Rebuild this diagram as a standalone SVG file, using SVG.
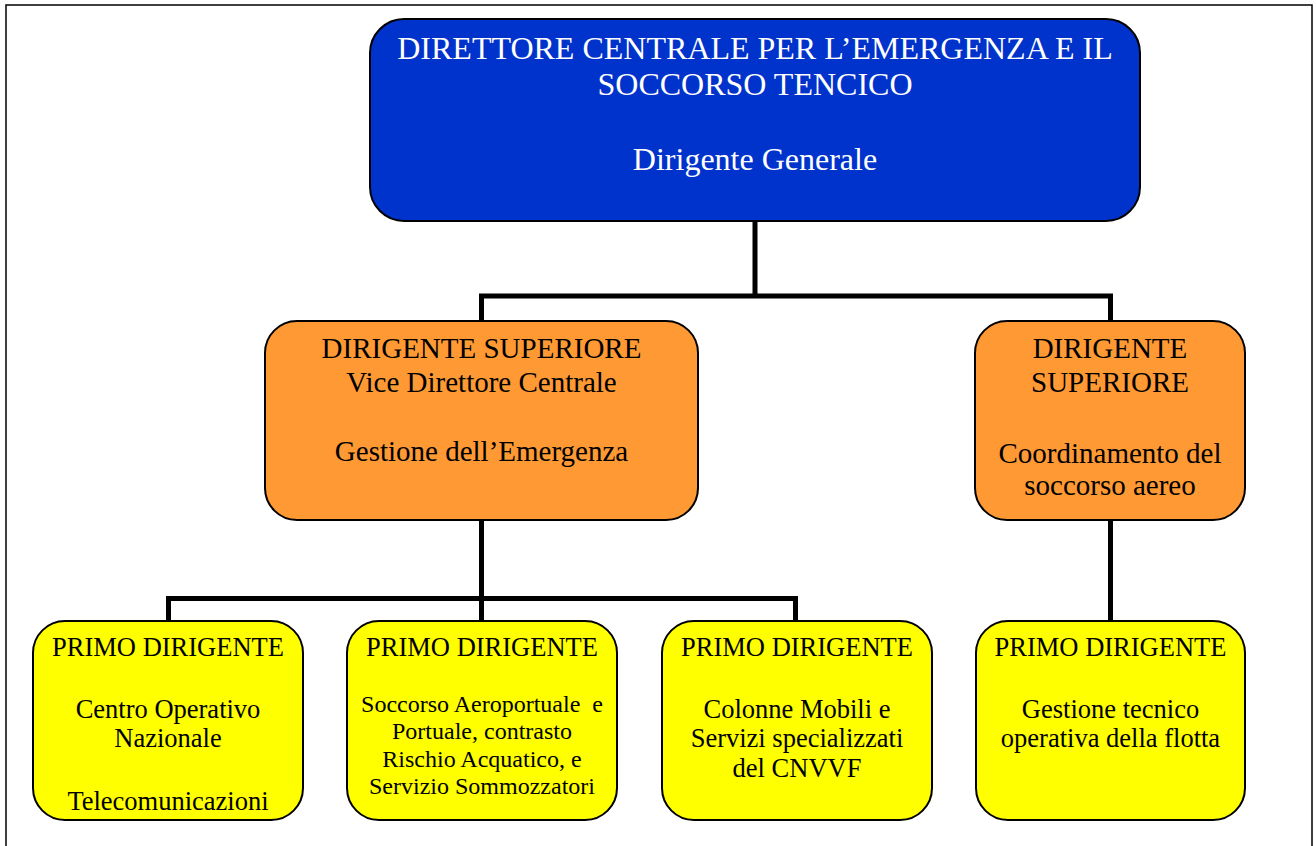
<svg xmlns="http://www.w3.org/2000/svg" width="1316" height="846" viewBox="0 0 1316 846">
<style>
.box{stroke:#000;stroke-width:2}
.blue{fill:#0033CC}
.orange{fill:#FF9933}
.yellow{fill:#FFFF00}
text{font-family:"Liberation Serif","Times New Roman",serif;text-anchor:middle}
.t1{font-size:32px;fill:#fff}
.t2{font-size:29px;fill:#000}
.t3{font-size:26.5px;fill:#000}
.t4{font-size:24px;fill:#000}
.conn{fill:none;stroke:#000;stroke-width:5;stroke-linejoin:miter}
</style>
<rect x="0" y="0" width="1316" height="846" fill="#fff"/>
<path d="M6,850 V5 H1312 V850" fill="none" stroke="#000" stroke-width="1.5"/>
<g id="connectors">
<path class="conn" d="M755,221 V296"/>
<path class="conn" d="M481.5,321 V296 H1110.5 V321"/>
<path class="conn" d="M481.5,520 V621"/>
<path class="conn" d="M168.5,621 V598.5 H795.5 V621"/>
<path class="conn" d="M1110.5,520 V621"/>
</g>
<g id="n-direttore">
<rect class="box blue" x="370" y="19" width="770" height="202" rx="34" ry="34"/>
<text class="t1" x="755" y="59">DIRETTORE CENTRALE PER L’EMERGENZA E IL</text>
<text class="t1" x="755" y="95">SOCCORSO TENCICO</text>
<text class="t1" x="755" y="170">Dirigente Generale</text>
</g>
<g id="n-vice">
<rect class="box orange" x="265" y="321" width="433" height="199" rx="32" ry="32"/>
<text class="t2" x="481.5" y="358">DIRIGENTE SUPERIORE</text>
<text class="t2" x="481.5" y="392">Vice Direttore Centrale</text>
<text class="t2" x="481.5" y="461">Gestione dell’Emergenza</text>
</g>
<g id="n-aereo">
<rect class="box orange" x="975" y="321" width="270" height="199" rx="32" ry="32"/>
<text class="t2" x="1110" y="358">DIRIGENTE</text>
<text class="t2" x="1110" y="392">SUPERIORE</text>
<text class="t2" x="1110" y="463">Coordinamento del</text>
<text class="t2" x="1110" y="495">soccorso aereo</text>
</g>
<g id="n-cen">
<rect class="box yellow" x="33" y="621" width="270" height="199" rx="32" ry="32"/>
<text class="t3" x="168" y="656">PRIMO DIRIGENTE</text>
<text class="t3" x="168" y="718">Centro Operativo</text>
<text class="t3" x="168" y="747">Nazionale</text>
<text class="t3" x="168" y="810">Telecomunicazioni</text>
</g>
<g id="n-acquatico">
<rect class="box yellow" x="347" y="621" width="270" height="199" rx="32" ry="32"/>
<text class="t3" x="482" y="656">PRIMO DIRIGENTE</text>
<text class="t4" x="482" y="712" xml:space="preserve">Soccorso Aeroportuale  e</text>
<text class="t4" x="482" y="739">Portuale, contrasto</text>
<text class="t4" x="482" y="767">Rischio Acquatico, e</text>
<text class="t4" x="482" y="794">Servizio Sommozzatori</text>
</g>
<g id="n-colonne">
<rect class="box yellow" x="662" y="621" width="270" height="199" rx="32" ry="32"/>
<text class="t3" x="797" y="656">PRIMO DIRIGENTE</text>
<text class="t3" x="797" y="718">Colonne Mobili e</text>
<text class="t3" x="797" y="747">Servizi specializzati</text>
<text class="t3" x="797" y="777">del CNVVF</text>
</g>
<g id="n-flotta">
<rect class="box yellow" x="976" y="621" width="269" height="199" rx="32" ry="32"/>
<text class="t3" x="1110.5" y="656">PRIMO DIRIGENTE</text>
<text class="t3" x="1110.5" y="718">Gestione tecnico</text>
<text class="t3" x="1110.5" y="747">operativa della flotta</text>
</g>
</svg>
